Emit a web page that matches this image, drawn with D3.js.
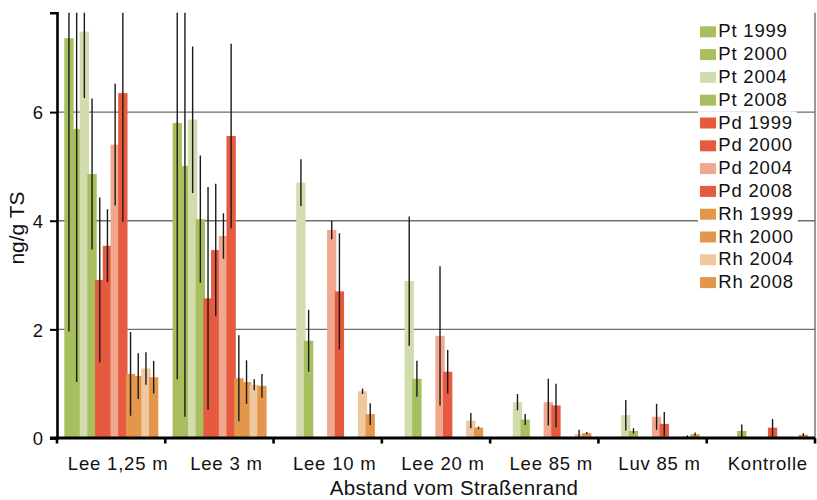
<!DOCTYPE html>
<html>
<head>
<meta charset="utf-8">
<script src="https://cdn.jsdelivr.net/npm/d3@7"></script>
<style>
  body { margin: 0; background: #fff; }
  svg { display: block; font-family: "Liberation Sans", Arial, sans-serif; }
</style>
</head>
<body>
<div id="chart"></div>
<script>
// categories along the x axis
var categories = ["Lee 1,25 m", "Lee 3 m", "Lee 10 m", "Lee 20 m", "Lee 85 m", "Luv 85 m", "Kontrolle"];
var seriesNames = ["Pt 1999", "Pt 2000", "Pt 2004", "Pt 2008",
                   "Pd 1999", "Pd 2000", "Pd 2004", "Pd 2008",
                   "Rh 1999", "Rh 2000", "Rh 2004", "Rh 2008"];
var seriesColors = ["#a7bf5e", "#a7bf5e", "#d1ddad", "#a7bf5e",
                    "#e65a40", "#e65a40", "#f2a78f", "#e65a40",
                    "#e3974b", "#e3974b", "#f0c89f", "#e3974b"];

// mean values (ng/g TS), one array per series, null = not measured
var pt1999 = [7.36, 5.80, null, null, null, null, null];
var pt2000 = [5.69, 5.01, null, null, null, null, null];
var pt2004 = [7.48, 5.86, 4.70, 2.89, 0.66, 0.42, null];
var pt2008 = [4.86, 4.03, 1.79, 1.09, 0.34, 0.13, 0.13];
var pd1999 = [2.91, 2.57, null, null, null, null, null];
var pd2000 = [3.54, 3.46, null, null, null, null, null];
var pd2004 = [5.40, 3.72, 3.83, 1.88, 0.66, 0.39, null];
var pd2008 = [6.35, 5.56, 2.70, 1.22, 0.60, 0.26, 0.19];
var rh1999 = [1.18, 1.10, null, null, null, null, null];
var rh2000 = [1.14, 1.03, null, null, null, null, null];
var rh2004 = [1.28, 0.98, 0.86, 0.32, 0.07, 0.03, null];
var rh2008 = [1.12, 0.96, 0.44, 0.19, 0.09, 0.07, 0.06];

// standard deviations (error bars)
var pt1999Err = [5.40, 4.72, null, null, null, null, null];
var pt2000Err = [4.66, 4.62, null, null, null, null, null];
var pt2004Err = [1.22, 1.35, 0.43, 1.19, 0.15, 0.28, null];
var pt2008Err = [1.39, 1.17, 0.57, 0.33, 0.10, 0.05, 0.12];
var pd1999Err = [1.52, 2.05, null, null, null, null, null];
var pd2000Err = [0.67, 1.22, null, null, null, null, null];
var pd2004Err = [1.12, 0.42, 0.17, 1.28, 0.43, 0.24, null];
var pd2008Err = [2.37, 1.70, 1.07, 0.40, 0.40, 0.22, 0.16];
var rh1999Err = [0.77, 0.79, null, null, null, null, null];
var rh2000Err = [0.42, 0.40, null, null, null, null, null];
var rh2004Err = [0.30, 0.10, 0.05, 0.14, 0.08, 0.02, null];
var rh2008Err = [0.30, 0.22, 0.20, 0.02, 0.02, 0.03, 0.03];

var yTicks = [0, 2, 4, 6];
var yLabel = "ng/g TS";
var xLabel = "Abstand vom Straßenrand";

var values = [pt1999, pt2000, pt2004, pt2008, pd1999, pd2000, pd2004, pd2008, rh1999, rh2000, rh2004, rh2008];
var errors = [pt1999Err, pt2000Err, pt2004Err, pt2008Err, pd1999Err, pd2000Err, pd2004Err, pd2008Err,
              rh1999Err, rh2000Err, rh2004Err, rh2008Err];

var W = 817, H = 500;
// (window.top is taken, so plot edges get their own names)
var plotLeft = 57, plotRight = 815, plotTop = 12.7, plotBottom = 438;

var svg = d3.select("#chart").append("svg").attr("width", W).attr("height", H);

var x0 = d3.scaleBand().domain(categories).range([plotLeft, plotRight]).padding(0);
// bars overlap a little, like the Excel original
var x1 = d3.scaleBand().domain(seriesNames).range([7.3, 7.3 + 12 * 7.7]).padding(0);
var barW = 9.3;
var y = d3.scaleLinear().domain([0, 7.83]).range([plotBottom, plotTop]);

// flatten into one list of bars
var bars = [];
seriesNames.forEach(function(s, si) {
  categories.forEach(function(c, ci) {
    var v = values[si][ci];
    if (v == null) return;
    bars.push({ s: s, c: c, v: v, e: errors[si][ci], color: seriesColors[si] });
  });
});

svg.append("clipPath").attr("id", "plot")
  .append("rect").attr("x", plotLeft).attr("y", plotTop)
  .attr("width", plotRight - plotLeft).attr("height", plotBottom - plotTop);

// gridlines
svg.append("g").selectAll("line").data(yTicks.filter(function(d) { return d > 0; }))
  .enter().append("line")
  .attr("x1", plotLeft).attr("x2", plotRight)
  .attr("y1", function(d) { return y(d); }).attr("y2", function(d) { return y(d); })
  .attr("stroke", "#6e6e6e").attr("stroke-width", 1.3);

// right frame line
svg.append("line").attr("x1", plotRight).attr("x2", plotRight).attr("y1", plotTop).attr("y2", plotBottom)
  .attr("stroke", "#555").attr("stroke-width", 1.2);

var plot = svg.append("g").attr("clip-path", "url(#plot)");

plot.selectAll("rect.bar").data(bars).enter().append("rect")
  .attr("class", "bar")
  .attr("x", function(d) { return x0(d.c) + x1(d.s); })
  .attr("width", barW)
  .attr("y", function(d) { return y(d.v); })
  .attr("height", function(d) { return y(0) - y(d.v); })
  .attr("fill", function(d) { return d.color; });

// error bars
plot.selectAll("line.err").data(bars).enter().append("line")
  .attr("class", "err")
  .attr("x1", function(d) { return x0(d.c) + x1(d.s) + barW / 2; })
  .attr("x2", function(d) { return x0(d.c) + x1(d.s) + barW / 2; })
  .attr("y1", function(d) { return y(d.v + d.e); })
  .attr("y2", function(d) { return y(Math.max(0, d.v - d.e)); })
  .attr("stroke", "#1a1a1a").attr("stroke-width", 1.4);

// y axis
var yAxis = d3.axisLeft(y).tickValues(yTicks).tickSize(7).tickPadding(7).tickFormat(d3.format("d"));
var gy = svg.append("g").attr("transform", "translate(" + plotLeft + ",0)").call(yAxis);
gy.select(".domain").attr("stroke", "#000").attr("stroke-width", 2.6);
gy.selectAll(".tick line").attr("stroke", "#000").attr("stroke-width", 2);
gy.selectAll(".tick text").attr("font-size", "18.5px").attr("font-family", "Liberation Sans, Arial, sans-serif")
  .attr("fill", "#111").attr("dy", "0.36em");

// x axis: ticks between the groups
svg.append("line").attr("x1", plotLeft - 7).attr("x2", plotRight).attr("y1", plotBottom).attr("y2", plotBottom)
  .attr("stroke", "#000").attr("stroke-width", 3);
var bounds = categories.map(function(c) { return x0(c); }).concat([plotRight]);
svg.append("g").selectAll("line").data(bounds).enter().append("line")
  .attr("x1", function(d) { return d; }).attr("x2", function(d) { return d; })
  .attr("y1", plotBottom).attr("y2", plotBottom + 5.5)
  .attr("stroke", "#000").attr("stroke-width", 2.6);

svg.append("g").selectAll("text").data(categories).enter().append("text")
  .attr("x", function(d) { return x0(d) + x0.bandwidth() / 2 + 7; })
  .attr("y", 470)
  .attr("text-anchor", "middle")
  .attr("font-size", "18.5px").attr("letter-spacing", "0.8px").attr("fill", "#111")
  .text(function(d) { return d; });

svg.append("text").attr("x", 454).attr("y", 495).attr("text-anchor", "middle")
  .attr("font-size", "20.5px").attr("letter-spacing", "0.4px").attr("fill", "#111")
  .text(xLabel);

svg.append("text").attr("transform", "translate(24,228) rotate(-90)").attr("text-anchor", "middle")
  .attr("font-size", "21px").attr("fill", "#111")
  .text(yLabel);

// legend, each entry on its own white box
var legend = svg.append("g");
var rows = legend.selectAll("g").data(seriesNames).enter().append("g")
  .attr("transform", function(d, i) { return "translate(700," + (37.3 + i * 22.8) + ")"; });
rows.append("rect").attr("class", "bg").attr("x", -2).attr("y", -17).attr("height", 22.8).attr("fill", "#fff");
rows.append("rect").attr("x", 0).attr("y", -11).attr("width", 16).attr("height", 11)
  .attr("fill", function(d, i) { return seriesColors[i]; });
rows.append("text").attr("x", 18.3).attr("y", 0)
  .attr("font-size", "18.5px").attr("letter-spacing", "0.8px").attr("fill", "#111")
  .text(function(d) { return d; });
rows.each(function() {
  var g = d3.select(this);
  var w = g.select("text").node().getComputedTextLength();
  g.select("rect.bg").attr("width", 18.3 + w + 6);
});
</script>
</body>
</html>
